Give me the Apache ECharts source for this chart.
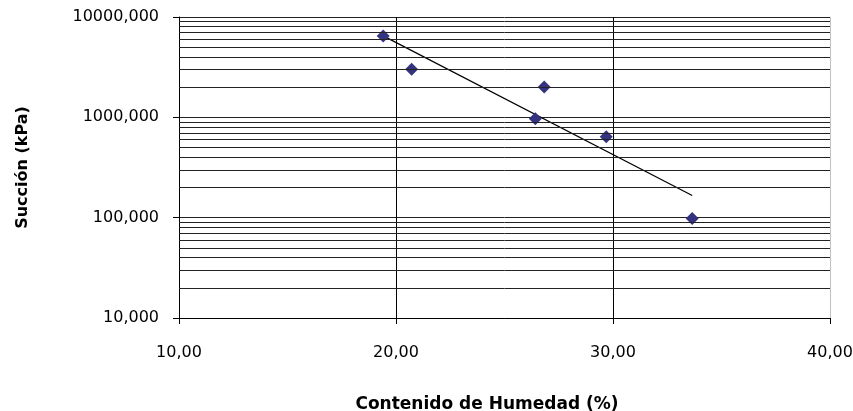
<!DOCTYPE html>
<html>
<head>
<meta charset="utf-8">
<script src="https://cdn.jsdelivr.net/npm/echarts@6/dist/echarts.min.js"></script>
<style>html,body{margin:0;padding:0;background:#fff;}#c{width:853px;height:411px;}</style>
</head>
<body>
<div id="c"></div>
<script>
var humedad = [19.41, 20.72, 26.83, 26.42, 29.69, 33.65];
var succion = [6450, 3020, 2010, 970, 640, 98];
var trendX = [19.41, 33.65];
var trendY = [6480, 166];
var xTicks = ['10,00', '20,00', '30,00', '40,00'];
var yTicks = ['10,000', '100,000', '1000,000', '10000,000'];
var minorY = [20, 30, 40, 50, 60, 70, 80, 90, 200, 300, 400, 500, 600, 700, 800, 900, 2000, 3000, 4000, 5000, 6000, 7000, 8000, 9000];

var xLabelMap = {}; [10, 20, 30, 40].forEach(function (v, i) { xLabelMap[v] = xTicks[i]; });
var yLabelMap = {}; [10, 100, 1000, 10000].forEach(function (v, i) { yLabelMap[v] = yTicks[i]; });

var chart = echarts.init(document.getElementById('c'), null, { renderer: 'canvas' });
chart.setOption({
  backgroundColor: '#ffffff',
  animation: false,
  grid: { left: 179, right: 23, top: 17, bottom: 93, containLabel: false, outerBoundsMode: 'none' },
  xAxis: {
    type: 'value', min: 10, max: 40, interval: 10,
    name: 'Contenido de Humedad (%)', nameLocation: 'middle', nameGap: 78,
    nameTextStyle: { fontFamily: 'DejaVu Sans', fontWeight: 'bold', fontSize: 17, color: '#000', padding: [0, 35, 0, 0] },
    axisLine: { show: true, onZero: false, lineStyle: { color: '#000', width: 1 } },
    axisTick: { show: true, length: 6, inside: false, lineStyle: { color: '#000' } },
    axisLabel: { margin: 27, fontFamily: 'DejaVu Sans', fontSize: 16, color: '#000', formatter: function (v) { return xLabelMap[v] || ''; } },
    splitLine: { show: true, lineStyle: { color: ['#000', '#000', '#000', '#c0c0c0'], width: 1 } }
  },
  yAxis: {
    type: 'log', logBase: 10, min: 10, max: 10000,
    name: 'Succión (kPa)', nameLocation: 'middle', nameGap: 148, nameRotate: 90,
    nameTextStyle: { fontFamily: 'DejaVu Sans', fontWeight: 'bold', fontSize: 16, color: '#000' },
    axisLine: { show: true, lineStyle: { color: '#000', width: 1 } },
    axisTick: { show: true, length: 6, inside: false, lineStyle: { color: '#000' } },
    axisLabel: { margin: 20, fontFamily: 'DejaVu Sans', fontSize: 16, color: '#000', formatter: function (v) { return yLabelMap[Math.round(v)] || ''; } },
    splitLine: { show: true, lineStyle: { color: '#222', width: 1 } },
    minorTick: { show: false }
  },
  series: [
    {
      type: 'line', name: 'grid', data: [], silent: true,
      markLine: {
        silent: true, symbol: ['none', 'none'], animation: false,
        label: { show: false },
        lineStyle: { color: '#222', width: 1, type: 'solid' },
        emphasis: { disabled: true },
        data: minorY.map(function (v) { return { yAxis: v }; })
      }
    },
    {
      type: 'line', name: 'trend', showSymbol: false, symbol: 'none',
      data: trendX.map(function (x, i) { return [x, trendY[i]]; }),
      lineStyle: { color: '#000', width: 1.2 }, z: 3
    },
    {
      type: 'scatter', name: 'datos', symbol: 'diamond', symbolSize: 13,
      data: humedad.map(function (x, i) { return [x, succion[i]]; }),
      itemStyle: { color: '#333380', opacity: 1 }, z: 4
    }
  ]
});
</script>
</body>
</html>
